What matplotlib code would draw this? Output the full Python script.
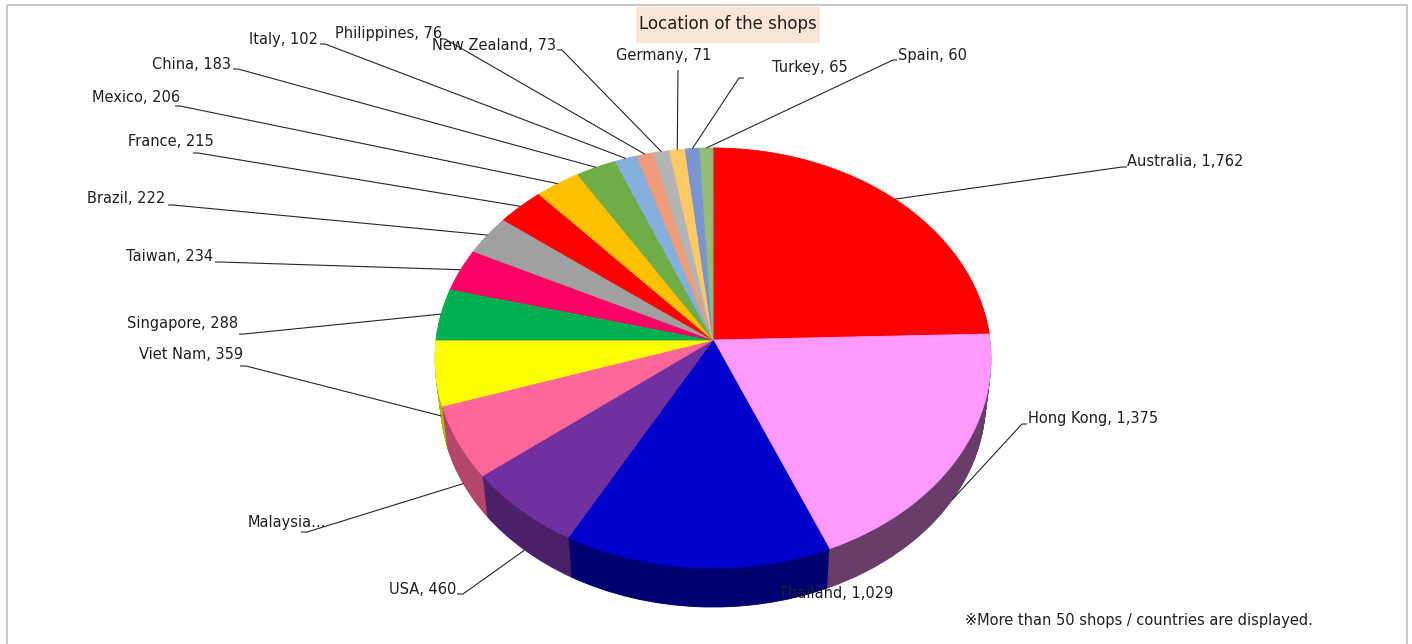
import numpy as np
import matplotlib
matplotlib.use("Agg")
import matplotlib.pyplot as plt
from matplotlib.transforms import Transform
from matplotlib.patches import Rectangle
from matplotlib.colors import to_rgb

# ---------------- data ----------------
countries = ["Australia", "Hong Kong", "Thailand", "USA", "Malaysia", "Viet Nam",
             "Singapore", "Taiwan", "Brazil", "France", "Mexico", "China", "Italy",
             "Philippines", "New Zealand", "Germany", "Turkey", "Spain"]
shops = [1762, 1375, 1029, 460, 400, 359, 288, 234, 222, 215, 206, 183, 102,
         76, 73, 71, 65, 60]
colors = ["#FF0000", "#FF99FF", "#0000CC", "#7030A0", "#FF6699", "#FFFF00",
          "#00B050", "#FF0066", "#A0A0A0", "#FF0000", "#FFC000", "#70AD47",
          "#85B0DE", "#F19C79", "#B4B4B4", "#FFCA66", "#7B94D2", "#92BE7A"]
title = "Location of the shops"
footnote = "\u203bMore than 50 shops / countries are displayed."
truncated = {"Malaysia": "Malaysia\u2026"}

# ---------------- layout (pixel coords, y down) ----------------
# text x, text y, ha, elbow x, elbow y, tick end x
label_layout = {
    "Australia":   (1127, 161, "left", 1122, 167, 1127),
    "Hong Kong":   (1028, 418, "left", 1022, 424, 1027),
    "Thailand":    (779, 593, "left", None, None, None),
    "USA":         (456, 589, "right", 463, 594, 457),
    "Malaysia":    (248, 523, "left", 307, 532, 301),
    "Viet Nam":    (243, 354, "right", 246, 366, 240),
    "Singapore":   (238, 323, "right", 244, 334, 239),
    "Taiwan":      (213, 256, "right", 220, 262, 215),
    "Brazil":      (165, 198, "right", 173, 205, 168),
    "France":      (214, 141, "right", 198, 153, 193),
    "Mexico":      (180, 97, "right", 180, 106, 175),
    "China":       (231, 64, "right", 238, 69, 233),
    "Italy":       (318, 39, "right", 325, 44, 320),
    "Philippines": (335, 33, "left", 445, 39, 440),
    "New Zealand": (432, 45, "left", 562, 50, 557),
    "Germany":     (664, 55, "center", 678, 70, 678),
    "Turkey":      (772, 67, "left", 739, 78, 744),
    "Spain":       (898, 55, "left", 893, 60, 897),
}

W, H = 1412, 644
CX, CY, RX, RY, K = 713.0, 340.0, 277.0, 208.5, 0.0857
DEPTH = 39
SHRINK = 0.02   # bottom face appears slightly smaller (perspective)


class Persp(Transform):
    """Projective map of the unit pie disk onto the tilted 3D face."""
    input_dims = 2
    output_dims = 2

    def __init__(self, cx, cy, rx, ry, k, dy=0.0, s=1.0):
        super().__init__()
        self.p = (cx, cy, rx, ry, k, dy, s)

    def transform_non_affine(self, values):
        cx, cy, rx, ry, k, dy, s = self.p
        v = np.asarray(values, dtype=float).reshape(-1, 2)
        u, w = v[:, 0], v[:, 1]
        d = 1.0 + k * w
        front = ry / (1.0 - k)
        y0 = cy + dy + (1.0 - s) * front
        return np.column_stack([cx + s * rx * u / d, y0 - s * ry * w / d])


def layer(d):
    return Persp(CX, CY, RX, RY, K, d, 1.0 - SHRINK * d / DEPTH)


plt.rcParams["font.family"] = ["DejaVu Sans", "Noto Sans CJK JP"]
fig = plt.figure(figsize=(W / 100, H / 100), dpi=100)
ax = fig.add_axes([0, 0, 1, 1])

vals = np.array(shops, dtype=float)
total = vals.sum()
cum = np.concatenate([[0], np.cumsum(vals)[:-1]])
mid = np.deg2rad(90 - 360 * (cum + vals / 2) / total)
mu, mv = np.cos(mid), np.sin(mid)

# side wall shading
side_cols = []
for c, u in zip(colors, mu):
    f = 0.55 - 0.17 * u
    side_cols.append(tuple(min(1, x * f) for x in to_rgb(c)))


def draw_pie(cols, d):
    wedges, _ = ax.pie(shops, colors=cols, startangle=90, counterclock=False,
                       wedgeprops=dict(linewidth=0.6))
    tr = layer(d) + ax.transData
    for w in wedges:
        w.set_edgecolor(w.get_facecolor())
        w.set_transform(tr)


for d in np.arange(DEPTH, 0, -1.0):
    draw_pie(side_cols, d)
draw_pie(colors, 0.0)

ax.set_aspect("auto")
ax.set_xlim(0, W)
ax.set_ylim(H, 0)
ax.axis("off")

# labels and leader lines
pts = np.column_stack([mu, mv])
top_anchor = layer(0).transform(pts)
bot_anchor = layer(DEPTH).transform(pts)
for i, name in enumerate(countries):
    tx, ty, ha, ex, ey, tk = label_layout[name]
    txt = truncated.get(name, f"{name}, {shops[i]:,}")
    ax.text(tx, ty, txt, ha=ha, va="center", fontsize=10.5, color="#1F1F1F", zorder=10)
    if ex is not None:
        px, py = bot_anchor[i] if mv[i] < 0 else top_anchor[i]
        ax.plot([px, ex, tk], [py, ey, ey], color="#262626", lw=0.8, zorder=9,
                solid_capstyle="butt")

# title
ax.add_patch(Rectangle((636, 7), 184, 36, facecolor="#FBE5D6", edgecolor="none", zorder=5))
ax.text(728, 24, title, ha="center", va="center", fontsize=12, color="#1F1F1F", zorder=6)

# footnote
ax.text(965, 620, footnote, ha="left", va="center", fontsize=10.5, color="#1F1F1F")

# chart border
ax.add_patch(Rectangle((7, 5), 1400, 660, facecolor="none", edgecolor="#BFBFBF",
                       lw=1.2, zorder=1, clip_on=False))

fig.savefig("out.png", dpi=100)
